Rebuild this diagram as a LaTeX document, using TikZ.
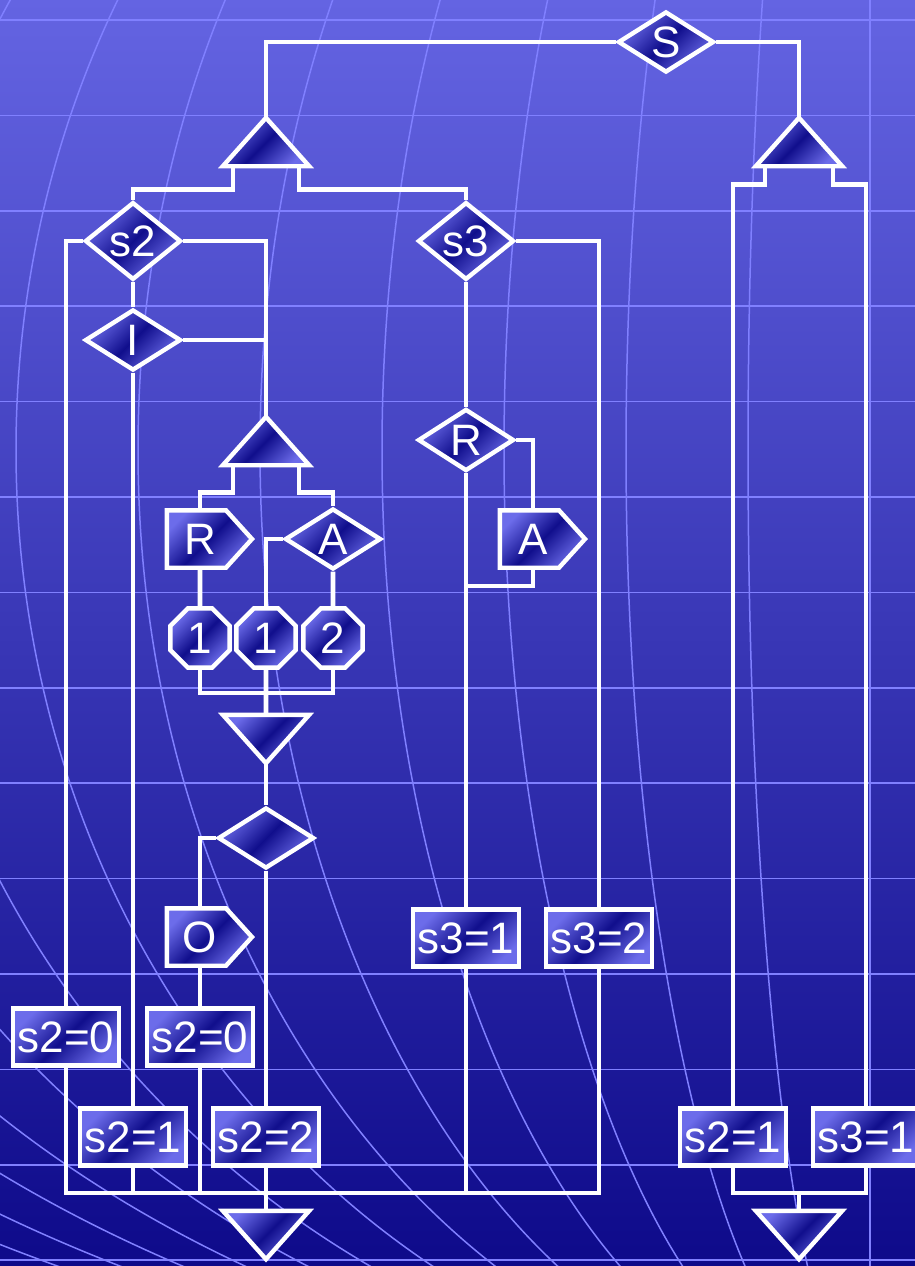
\documentclass[tikz,border=0pt]{standalone}
\usepackage{fontspec}
\setmainfont{Liberation Sans}
\usetikzlibrary{shapes.geometric}

\definecolor{bgtop}{RGB}{100,100,226}
\definecolor{bgbot}{RGB}{14,10,138}
\definecolor{gridc}{RGB}{128,128,255}
\definecolor{glight}{RGB}{108,108,234}
\definecolor{gdark}{RGB}{16,14,140}

\pgfdeclarelayer{back}
\pgfdeclarelayer{fills}
\pgfsetlayers{back,fills,main}

\tikzset{
  gfill/.style={top color=glight, bottom color=glight, middle color=gdark, shading angle=45},
  wire/.style={draw=white, line width=4.8pt},
  grid/.style={draw=gridc, line width=1.5pt},
  dia/.style={diamond, gfill, draw=white, line width=4.4pt, inner sep=0pt,
    minimum width=96pt, minimum height=61pt},
  lbl/.style={rectangle, gfill, draw=white, line width=4.4pt, inner sep=0pt,
    minimum width=106pt, minimum height=57pt},
  octo/.style={regular polygon, regular polygon sides=8, gfill, draw=white,
    line width=4.4pt, inner sep=0pt, minimum size=64pt},
  tribox/.style={rectangle, inner sep=0pt, minimum width=86pt, minimum height=48pt},
  sigbox/.style={rectangle, inner sep=0pt, minimum width=66pt, minimum height=57pt},
  shp/.style={gfill, draw=white, line width=4.4pt}
}

\begin{document}
\begin{tikzpicture}[x=1pt, y=-1pt, font=\fontsize{44}{48}\selectfont, text=white]
  \useasboundingbox (0,0) rectangle (915,1266);

  % 背景
  \begin{pgfonlayer}{back}
    \shade[top color=bgtop, bottom color=bgbot] (0,0) rectangle (915,1266);
    \begin{scope}
      \clip (0,0) rectangle (915,1266);
      \foreach \j in {0,...,13}
        \draw[grid] (0,20+95.4*\j) -- (915,20+95.4*\j);
      \draw[grid] (870,0) -- (870,1266);
      \foreach \k in {1,...,14}
        \draw[grid] (870,450) ellipse [x radius=122*\k, y radius=950];
    \end{scope}
  \end{pgfonlayer}

  % 节点
  \node[dia] (S) at (666,42) {S};
  \node[tribox] (tL) at (266,142) {};
  \node[tribox] (tR) at (799,142) {};
  \node[dia] (s2) at (133,241) {s2};
  \node[dia] (s3) at (466,241) {s3};
  \node[dia] (in) at (133,340) {I};
  \node[tribox] (tM) at (266,441) {};
  \node[dia] (rd) at (466,440) {R};
  \node[sigbox] (rb) at (200,539) {R};
  \node[dia] (ad) at (333,539) {A};
  \node[sigbox] (ab) at (533,539) {A};
  \node[octo] (o1) at (200,638) {1};
  \node[octo] (o2) at (266,638) {1};
  \node[octo] (o3) at (333,638) {2};
  \node[tribox] (vM) at (266,739) {};
  \node[dia] (ck) at (266,838) {};
  \node[sigbox] (ob) at (200,937) {O};
  \node[lbl] (c31) at (466,938) {s3=1};
  \node[lbl] (c32) at (599,938) {s3=2};
  \node[lbl] (c20a) at (66,1037) {s2=0};
  \node[lbl] (c20b) at (200,1037) {s2=0};
  \node[lbl] (c21a) at (133,1137) {s2=1};
  \node[lbl] (c22) at (266,1137) {s2=2};
  \node[lbl] (c21b) at (733,1137) {s2=1};
  \node[lbl] (c31b) at (866,1137) {s3=1};
  \node[tribox] (vL) at (266,1235) {};
  \node[tribox] (vR) at (799,1235) {};

  \coordinate (j1) at (266,693);
  \coordinate (j2) at (266,1193);
  \coordinate (j3) at (466,586);
  \coordinate (j4) at (799,1193);

  % 三角形与箭头框
  \begin{pgfonlayer}{fills}
    \foreach \t in {tL,tR,tM}
      \path[shp] (\t.south west) -- (\t.north) -- (\t.south east) -- cycle;
    \foreach \t in {vM,vL,vR}
      \path[shp] (\t.north west) -- (\t.south) -- (\t.north east) -- cycle;
    \foreach \b in {rb,ab,ob}
      \path[shp] (\b.north west) -- ([xshift=26pt]\b.north) -- ([xshift=52pt]\b.center)
        -- ([xshift=26pt]\b.south) -- (\b.south west) -- cycle;
  \end{pgfonlayer}

  % 连线
  \draw[wire] (S.west) -| (tL.north);
  \draw[wire] (S.east) -| (tR.north);
  \draw[wire] ([xshift=-33pt]tL.south) -- ++(0,23) -| (s2.north);
  \draw[wire] ([xshift=33pt]tL.south) -- ++(0,23) -| (s3.north);
  \draw[wire] ([xshift=-34pt]tR.south) -- ++(0,18) -| (c21b.north);
  \draw[wire] ([xshift=34pt]tR.south) -- ++(0,18) -| (c31b.north);

  \draw[wire] (s2.west) -| (c20a.north);
  \draw[wire] (s2.east) -| (tM.north);
  \draw[wire] (s2.south) -- (in.north);
  \draw[wire] (in.east) -- (in.east -| tM.north);
  \draw[wire] (in.south) -- (c21a.north);

  \draw[wire] ([xshift=-33pt]tM.south) -- ++(0,27) -| (rb.north);
  \draw[wire] ([xshift=33pt]tM.south) -- ++(0,27) -| (ad.north);
  \draw[wire] (rb.south) -- (o1.north);
  \draw[wire] (ad.west) -| (o2.north);
  \draw[wire] (ad.south) -- (o3.north);
  \draw[wire] (o1.south) |- (j1) -| (o3.south);
  \draw[wire] (o2.south) -- (vM.north);
  \draw[wire] (vM.south) -- (ck.north);
  \draw[wire] (ck.west) -| (ob.north);
  \draw[wire] (ck.south) -- (c22.north);
  \draw[wire] (ob.south) -- (c20b.north);

  \draw[wire] (s3.east) -| (c32.north);
  \draw[wire] (s3.south) -- (rd.north);
  \draw[wire] (rd.east) -| (ab.north);
  \draw[wire] (rd.south) -- (c31.north);
  \draw[wire] (ab.south) |- (j3);

  % 汇合
  \draw[wire] (c20a.south) |- (j2) -| (c32.south);
  \foreach \n in {c21a,c20b,c31}
    \draw[wire] (\n.south) -- (\n.south |- j2);
  \draw[wire] (c22.south) -- (vL.north);
  \draw[wire] (c21b.south) |- (j4) -| (c31b.south);
  \draw[wire] (j4) -- (vR.north);
\end{tikzpicture}
\end{document}
